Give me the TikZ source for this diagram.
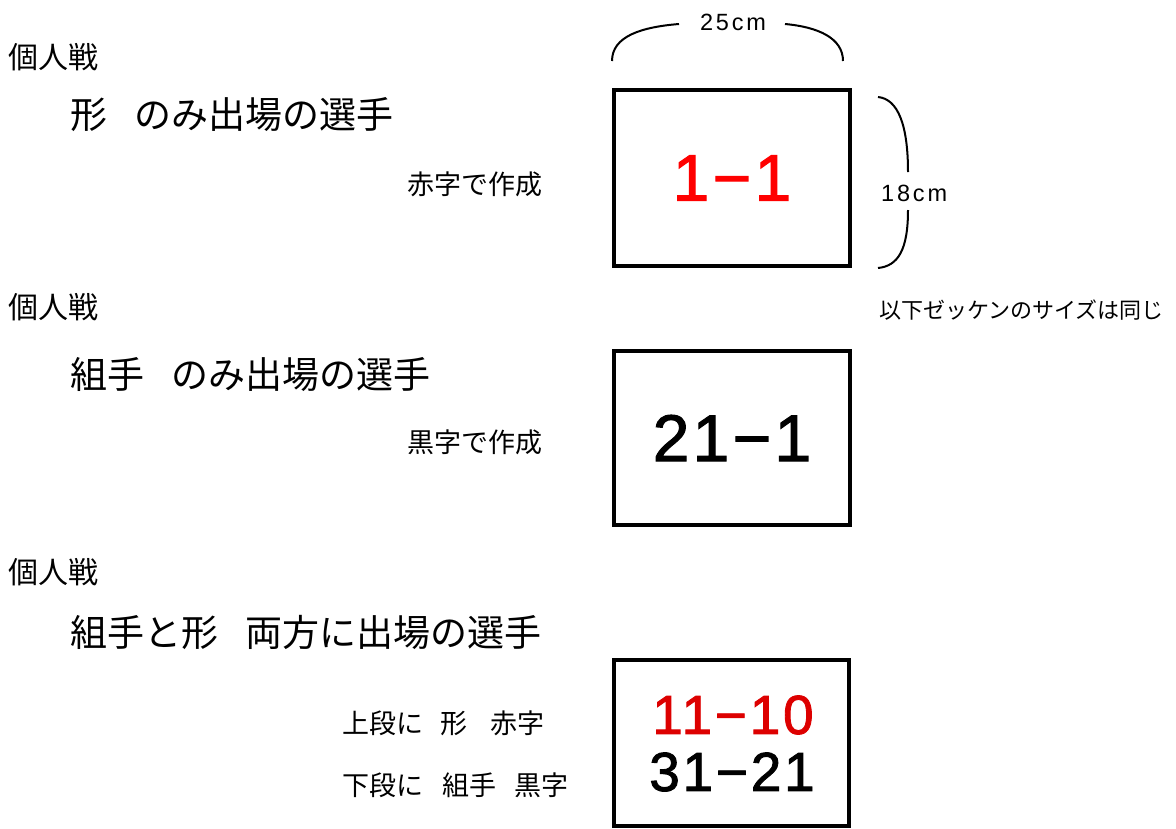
\documentclass[tikz,border=0pt]{standalone}
\usepackage{fontspec}
\setmainfont{Noto Sans CJK JP}
\newfontfamily\num[FakeBold=1.6,LetterSpace=5]{Liberation Sans}
\newfontfamily\dimf[LetterSpace=12]{Liberation Sans}
\definecolor{redA}{RGB}{255,0,0}
\definecolor{redB}{RGB}{221,0,0}
\begin{document}
\begin{tikzpicture}[x=1pt,y=-1pt,
  txt/.style={inner sep=0pt,anchor=west},
  head/.style={txt,font=\fontsize{30}{30}\selectfont},
  title/.style={txt,font=\fontsize{37}{37}\selectfont},
  note/.style={txt,font=\fontsize{27}{27}\selectfont},
  card/.style={draw,line width=4pt,minimum width=236pt,inner sep=0pt},
  big/.style={inner sep=0pt,font=\num\fontsize{66}{66}\selectfont},
  mid/.style={inner sep=0pt,font=\num\fontsize{55}{55}\selectfont},
  dim/.style={inner sep=0pt,font=\dimf\fontsize{23.5}{23.5}\selectfont},
  brace/.style={line width=2pt}]
\useasboundingbox (0,0) rectangle (1176,828);
% section 1
\node[head] (h1) at (8,57) {個人戦};
\node[title] (t1) at (70,115) {形\hspace{0.75em}のみ出場の選手};
\node[note] (n1) at (407,184) {赤字で作成};
\node[card,minimum height=176pt] (b1) at (732,178) {};
\node[big,text=redA] (v1) at (b1.center) {1−1};
% dimensions
\node[dim] (w) at (733,22) {25cm};
\node[dim,anchor=west] (hgt) at (881,193) {18cm};
\coordinate (ta) at (612,61);
\coordinate (tb) at (679,24);
\coordinate (tc) at (785,24);
\coordinate (td) at (843,61);
\draw[brace] (ta) .. controls (612,36) and (642,27) .. (tb);
\draw[brace] (tc) .. controls (818,27) and (843,38) .. (td);
\coordinate (ra) at (878,97);
\coordinate (rb) at (908,172);
\coordinate (rc) at (908,210);
\coordinate (rd) at (878,268);
\draw[brace] (ra) .. controls (898,99) and (908,125) .. (rb);
\draw[brace] (rc) .. controls (908,250) and (898,266) .. (rd);
\node[txt,font=\fontsize{22}{22}\selectfont] (same) at (879,310) {以下ゼッケンのサイズは同じ};
% section 2
\node[head] (h2) at (8,307) {個人戦};
\node[title] (t2) at (70,375) {組手\hspace{0.75em}のみ出場の選手};
\node[note] (n2) at (407,442) {黒字で作成};
\node[card,minimum height=174pt] (b2) at (732,438) {};
\node[big] (v2) at (b2.center) {21−1};
% section 3
\node[head] (h3) at (8,572) {個人戦};
\node[title] (t3) at (70,632) {組手と形\hspace{0.75em}両方に出場の選手};
\node[note] (n3) at (342,723) {上段に\hspace{0.65em}形\hspace{0.85em}赤字};
\node[note] (n4) at (342,785) {下段に\hspace{0.7em}組手\hspace{0.7em}黒字};
\node[card,minimum width=235pt,minimum height=166pt] (b3) at (731,743) {};
\node[mid,text=redB] (v3) at (733,715) {11−10};
\node[mid] (v4) at (732,772) {31−21};
\end{tikzpicture}
\end{document}
